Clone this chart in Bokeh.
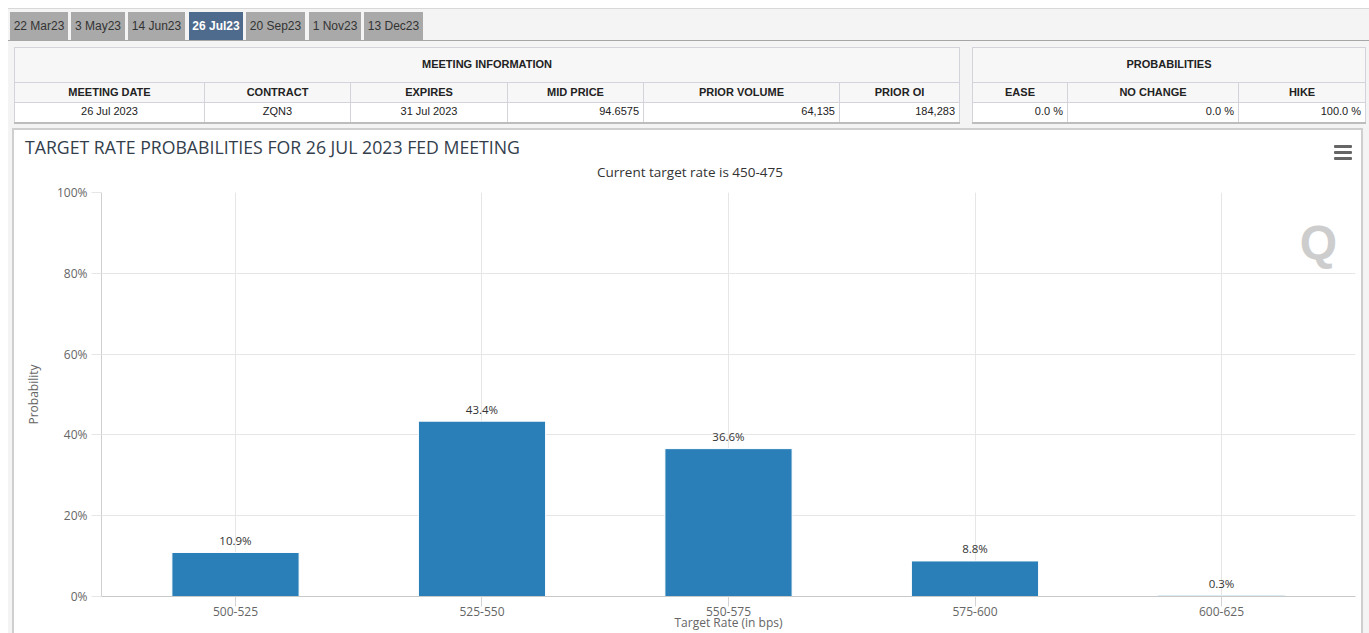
from bokeh.plotting import figure
from bokeh.models import Div, Range1d, FixedTicker, PrintfTickFormatter, Label, ColumnDataSource
from bokeh.layouts import column, row
from bokeh.embed import file_html
from bokeh.resources import INLINE
from bokeh.core.properties import value

# ---------------- data ----------------
tabs = ["22 Mar23", "3 May23", "14 Jun23", "26 Jul23", "20 Sep23", "1 Nov23", "13 Dec23"]
active_tab = "26 Jul23"
meeting_title = "MEETING INFORMATION"
meeting_headers = ["MEETING DATE", "CONTRACT", "EXPIRES", "MID PRICE", "PRIOR VOLUME", "PRIOR OI"]
meeting_values = ["26 Jul 2023", "ZQN3", "31 Jul 2023", "94.6575", "64,135", "184,283"]
prob_title = "PROBABILITIES"
prob_headers = ["EASE", "NO CHANGE", "HIKE"]
prob_values = ["0.0 %", "0.0 %", "100.0 %"]

chart_title = "TARGET RATE PROBABILITIES FOR 26 JUL 2023 FED MEETING"
chart_subtitle = "Current target rate is 450-475"
rate_bins = ["500-525", "525-550", "550-575", "575-600", "600-625"]
probabilities = [10.9, 43.4, 36.6, 8.8, 0.3]
y_ticks = [0, 20, 40, 60, 80, 100]
x_title = "Target Rate (in bps)"
y_title = "Probability"

# ---------------- layout / style (page pixels) ----------------
PAGE_W, PAGE_H = 1369, 633
HEAD_H = 180                      # html header height (tabs, tables, chart title)
TAB_X = [10, 71, 128, 189, 246, 309, 364]
TAB_W = [58, 54, 57, 54, 59, 52, 59]
MEET_COLS = [190, 146, 157, 136, 196, 120]
PROB_COLS = [95, 171, 127]
MEET_ALIGN = ["center", "center", "center", "right", "right", "right"]
PROB_ALIGN = ["right", "right", "right"]
CELL_BORDER = "1px solid #d3d3dc"
BOX_COL = "#cfcfcf"
BOX_BORDER = f"2px solid {BOX_COL}"
GRAY = "#f4f4f4"
BOX_L, BOX_R = 12, 1363           # chart box outer edges


def make_table(left, title, headers, values, cols, aligns):
    width = sum(cols)
    s = (f'<table style="position:absolute;left:{left}px;top:47px;width:{width}px;'
         f'border-collapse:collapse;table-layout:fixed;font-size:11px;color:#222;'
         f'border:1px solid #c8c8d0;border-bottom:2px solid #bdbdbd;">')
    s += '<colgroup>' + ''.join(f'<col style="width:{w}px">' for w in cols) + '</colgroup>'
    s += (f'<tr style="height:35px;background:#f7f7f7"><th colspan="{len(headers)}" '
          f'style="font-weight:bold;text-align:center;border:{CELL_BORDER};padding:0">{title}</th></tr>')
    s += '<tr style="height:20px;background:#f7f7f7">' + ''.join(
        f'<th style="font-weight:bold;text-align:center;border:{CELL_BORDER};padding:0">{h}</th>'
        for h in headers) + '</tr>'
    s += '<tr style="height:20px;background:#ffffff">' + ''.join(
        f'<td style="text-align:{a};border:{CELL_BORDER};padding:0 4px">{v}</td>'
        for v, a in zip(values, aligns)) + '</tr>'
    s += '</table>'
    return s


html = (f'<div style="position:relative;width:{PAGE_W}px;height:{HEAD_H}px;overflow:hidden;'
        f'font-family:\'Liberation Sans\',Arial,sans-serif;background:#ffffff;">')
html += (f'<div style="position:absolute;left:8px;top:8px;width:{PAGE_W - 8}px;height:{HEAD_H - 8}px;'
         f'background:{GRAY};border-top:1px solid #d8d8d8;box-sizing:border-box;"></div>')
html += f'<div style="position:absolute;left:8px;top:40px;width:{PAGE_W - 8}px;height:1px;background:#a6a6a6"></div>'
for t, x, w in zip(tabs, TAB_X, TAB_W):
    act = t == active_tab
    bg = "#4e6a8c" if act else "#a9a9a9"
    col = "#ffffff" if act else "#333333"
    fw = "bold" if act else "normal"
    html += (f'<div style="position:absolute;left:{x}px;top:12px;width:{w}px;height:28px;'
             f'line-height:28px;background:{bg};color:{col};font-weight:{fw};font-size:12px;'
             f'text-align:center;white-space:nowrap;">{t}</div>')
html += make_table(14, meeting_title, meeting_headers, meeting_values, MEET_COLS, MEET_ALIGN)
html += make_table(972, prob_title, prob_headers, prob_values, PROB_COLS, PROB_ALIGN)
# chart box header (title, subtitle, menu)
html += (f'<div style="position:absolute;left:{BOX_L}px;top:128px;width:{BOX_R - BOX_L}px;'
         f'height:{HEAD_H - 128}px;background:#fff;border-top:{BOX_BORDER};border-left:{BOX_BORDER};'
         f'border-right:{BOX_BORDER};box-sizing:border-box;"></div>')
html += (f'<div style="position:absolute;left:25px;top:135px;height:24px;line-height:24px;'
         f'font-family:\'Open Sans\';font-size:17.7px;color:#333e4c;white-space:nowrap;">{chart_title}</div>')
html += (f'<div style="position:absolute;left:490px;top:162px;width:400px;height:20px;line-height:20px;'
         f'text-align:center;font-family:\'Open Sans\';font-size:13.5px;color:#333;white-space:nowrap;">'
         f'{chart_subtitle}</div>')
for yy in (145, 151, 157):
    html += (f'<div style="position:absolute;left:1334px;top:{yy}px;width:18px;height:3px;'
             f'border-radius:1px;background:#666;"></div>')
html += '</div>'

top_div = Div(text=html, width=PAGE_W, height=HEAD_H, margin=0)

# ---------------- chart ----------------
FIG_W, FIG_H = BOX_R - BOX_L, PAGE_H - HEAD_H
CANVAS_X = BOX_L + 2              # canvas starts inside the 2px border
FRAME_L = 101 - CANVAS_X
FRAME_R = 1355 - CANVAS_X
FRAME_T = 192 - HEAD_H
FRAME_B = 596 - HEAD_H
xs = list(range(len(rate_bins)))
src = ColumnDataSource(dict(x=xs, top=probabilities,
                            label=[f"{v}%" for v in probabilities]))

p = figure(width=FIG_W, height=FIG_H,
           x_range=Range1d(-0.5436, len(rate_bins) - 1 + 0.5436),
           y_range=Range1d(y_ticks[0], y_ticks[-1]),
           output_backend="svg", toolbar_location=None, margin=0,
           min_border_left=FRAME_L, min_border_right=FIG_W - FRAME_R,
           min_border_top=FRAME_T, min_border_bottom=FIG_H - FRAME_B,
           background_fill_color="white", border_fill_color="white",
           outline_line_color=None,
           styles={"border-left": BOX_BORDER, "border-right": BOX_BORDER,
                   "box-sizing": "border-box"})

FONT = "Open Sans"

p.vbar(x="x", top="top", width=0.516, source=src,
       fill_color="#2a7fb8", line_color="white", line_width=1)
p.text(x="x", y="top", text="label", source=src, text_align="center",
       text_baseline="middle", y_offset=-12, text_font=value(FONT),
       text_font_size="11.5px", text_color="#333333")

# axes
p.xaxis.ticker = FixedTicker(ticks=xs)
p.xaxis.major_label_overrides = {i: b for i, b in zip(xs, rate_bins)}
p.xaxis.major_label_text_font = FONT
p.xaxis.major_label_text_font_size = "12px"
p.xaxis.major_label_text_color = "#666666"
p.xaxis.major_label_standoff = 0
p.xaxis.major_tick_in = 0
p.xaxis.major_tick_out = 10
p.xaxis.major_tick_line_color = "#d4d4d4"
p.xaxis.minor_tick_line_color = None
p.xaxis.axis_line_color = "#c8c8c8"
p.xaxis.axis_label = x_title
p.xaxis.axis_label_text_font = FONT
p.xaxis.axis_label_text_font_size = "12px"
p.xaxis.axis_label_text_font_style = "normal"
p.xaxis.axis_label_text_color = "#666666"
p.xaxis.axis_label_standoff = -5

p.yaxis.ticker = FixedTicker(ticks=y_ticks)
p.yaxis.formatter = PrintfTickFormatter(format="%d%%")
p.yaxis.major_label_text_font = FONT
p.yaxis.major_label_text_font_size = "12px"
p.yaxis.major_label_text_color = "#666666"
p.yaxis.major_label_standoff = 4
p.yaxis.major_tick_in = 0
p.yaxis.major_tick_out = 10
p.yaxis.major_tick_line_color = "#e6e6e6"
p.yaxis.minor_tick_line_color = None
p.yaxis.axis_line_color = "#d0d0d0"
p.yaxis.axis_label = y_title
p.yaxis.axis_label_text_font = FONT
p.yaxis.axis_label_text_font_size = "12px"
p.yaxis.axis_label_text_font_style = "normal"
p.yaxis.axis_label_text_color = "#666666"
p.yaxis.axis_label_standoff = 12

p.xgrid.ticker = FixedTicker(ticks=xs)
p.xgrid.grid_line_color = "#e6e6e6"
p.ygrid.ticker = FixedTicker(ticks=y_ticks)
p.ygrid.grid_line_color = "#e6e6e6"

# watermark logo inside the plot area (screen units are frame-relative)
p.add_layout(Label(x=1318 - 101, y=596 - 242, x_units="screen", y_units="screen", text="Q",
                   text_font="Liberation Sans", text_font_style="bold", text_font_size="48px",
                   text_color="#cdcdcd", text_baseline="middle", text_align="center"))

left_pad = Div(text="", width=BOX_L, height=FIG_H, margin=0,
               styles={"background": f"linear-gradient(to right, #ffffff 8px, {GRAY} 8px)"})
right_pad = Div(text="", width=PAGE_W - BOX_R, height=FIG_H, margin=0,
                styles={"background": GRAY})
layout = column(top_div, row(left_pad, p, right_pad, spacing=0, margin=0), spacing=0, margin=0)

open("out.html", "w").write(file_html(layout, INLINE))
